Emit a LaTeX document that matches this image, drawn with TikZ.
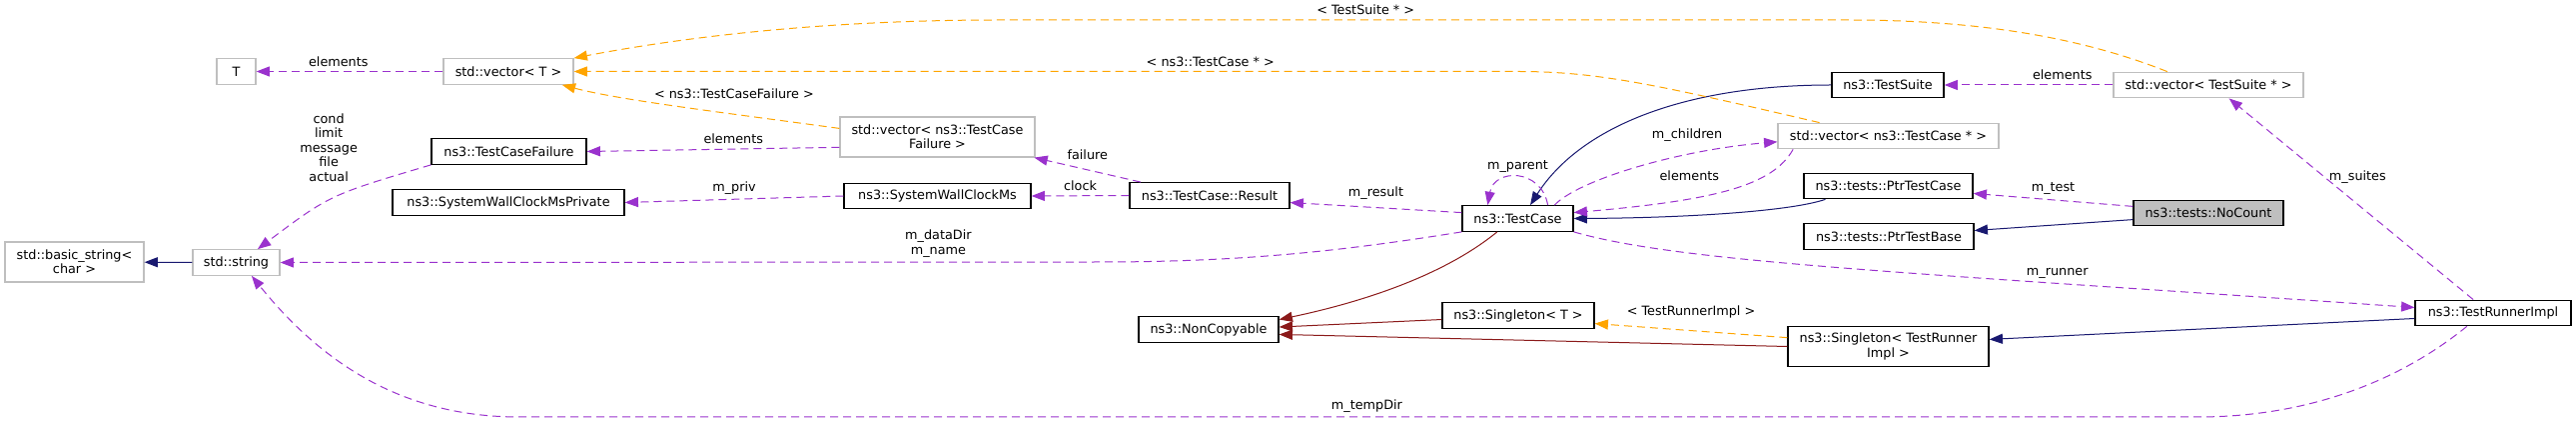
\documentclass[tikz,border=0pt]{standalone}
\usepackage{fontspec}
\setmainfont{DejaVu Sans}
\usetikzlibrary{arrows.meta}

\definecolor{edgepurple}{HTML}{9A32CD}
\definecolor{edgeorange}{HTML}{FFA500}
\definecolor{edgenavy}{HTML}{191970}
\definecolor{edgered}{HTML}{8B1A1A}
\definecolor{boxgray}{HTML}{BFBFBF}

\begin{document}
\begin{tikzpicture}[x=0.75pt,y=-0.75pt,
    font=\fontsize{9.6}{10.8}\selectfont,
    cls/.style={draw=black,line width=0.9pt,fill=white,inner sep=2pt,
      minimum height=19.2pt,align=center},
    ext/.style={cls,draw=boxgray},
    boxw/.style={minimum width=#1*0.75pt},
    inherit/.style={color=edgenavy,line width=0.75pt,
      -{Triangle[length=10pt,width=7.5pt]}},
    privinh/.style={inherit,color=edgered},
    uses/.style={inherit,color=edgepurple,dash pattern=on 6pt off 3.75pt},
    tmpl/.style={uses,color=edgeorange},
    every node/.append style={align=center,text=black}]
   \useasboundingbox (0,0) rectangle (2579,423);

   \node[ext,boxw=39] (T) at (236.5,71.5) {T};
   \node[ext,boxw=130] (vecT) at (509,71.5) {std::vector< T >};
   \node[cls,boxw=155] (tcf) at (509.5,151.5) {ns3::TestCaseFailure};
   \node[cls,boxw=232] (swcp) at (509,202.5) {ns3::SystemWallClockMsPrivate};
   \node[ext,boxw=139,minimum height=30pt] (bstr) at (74.5,262) {std::basic\_string<\\char >};
   \node[ext,boxw=87] (str) at (236.5,262.5) {std::string};
   \node[ext,boxw=195,minimum height=30pt] (vecTCF) at (938.5,137) {std::vector< ns3::TestCase\\Failure >};
   \node[cls,boxw=187] (swc) at (938.5,196) {ns3::SystemWallClockMs};
   \node[cls,boxw=160] (result) at (1211,195.5) {ns3::TestCase::Result};
   \node[cls,boxw=140] (noncopy) at (1210,329.5) {ns3::NonCopyable};
   \node[cls,boxw=111] (tc) at (1519.5,218.5) {ns3::TestCase};
   \node[cls,boxw=152] (sgT) at (1520,315.5) {ns3::Singleton< T >};
   \node[cls,boxw=112] (suite) at (1890,85) {ns3::TestSuite};
   \node[ext,boxw=221] (vecTC) at (1890.5,136) {std::vector< ns3::TestCase * >};
   \node[cls,boxw=169] (ptc) at (1890.5,186) {ns3::tests::PtrTestCase};
   \node[cls,boxw=170] (ptb) at (1891,236.5) {ns3::tests::PtrTestBase};
   \node[cls,boxw=201,minimum height=29.5pt] (sgTRI) at (1890.5,346.5) {ns3::Singleton< TestRunner\\Impl >};
   \node[ext,boxw=190] (vecTS) at (2211,85) {std::vector< TestSuite * >};
   \node[cls,boxw=150,fill=boxgray] (nocount) at (2211,213) {ns3::tests::NoCount};
   \node[cls,boxw=156] (runner) at (2496,313) {ns3::TestRunnerImpl};

   % public inheritance
   \path[inherit]
    (str) edge (bstr)
    (nocount.185) edge (ptb.4)
    (runner.184) edge (sgTRI.4);
   \draw[inherit] (suite.west) .. controls (1680,85) and (1580,130) .. (tc.47);
   \draw[inherit] (ptc.192) .. controls (1790,212) and (1680,218) .. (tc.east);

   % private inheritance
   \draw[privinh] (tc.213) .. controls (1440,280) and (1350,305) .. (noncopy.8);
   \path[privinh]
    (sgT.183) edge (noncopy.2)
    (sgTRI.west) edge (noncopy.-4);

   % usage
   \path[uses]
    (vecT) edge node[pos=0.56,above] {elements} (T)
    (vecTCF.186) edge node[pos=0.42,above] {elements} (tcf.east)
    (swc.west) edge node[above] {m\_priv} (swcp.east)
    (result.169) edge node[above=4pt] {failure} (vecTCF.-12)
    (result.west) edge node[above] {clock} (swc.east)
    (tc.174) edge node[above=2pt] {m\_result} (result.-5)
    (tc.24) edge[out=100,in=80,looseness=1.6] node[above] {m\_parent} (tc.156)
    (vecTS.west) edge node[pos=0.3,above] {elements} (suite.east)
    (nocount.175) edge node[above] {m\_test} (ptc.-5)
    (runner.146) edge node[pos=0.61,right] {m\_suites} (vecTS.-33);
   \draw[uses] (tcf.south west) .. controls (330,195) .. (str.32)
     node[pos=0.3,anchor=south east] {cond\\limit\\message\\file\\actual};
   \draw[uses] (tc.south west) .. controls (1350,250) and (1250,262) .. (1100,262)
     -- (str.east) node[pos=0.196,above] {m\_dataDir\\m\_name};
   \draw[uses] (tc.20) .. controls (1580,180) and (1680,150) .. (vecTC.183)
     node[pos=0.69,above=6.5pt] {m\_children};
   \draw[uses] (vecTC.188) .. controls (1775,185) and (1720,200) .. (tc.6)
     node[pos=0.67,above=10pt] {elements};
   \draw[uses] (tc.south east) .. controls (1680,262) and (1900,272) .. (runner.176)
     node[pos=0.73,above] {m\_runner};
   \draw[uses] (runner.207) .. controls (2410,375) and (2320,417) .. (2200,417)
     -- (520,417) node[pos=0.495,above] {m\_tempDir}
     .. controls (400,417) and (320,360) .. (str.-41);

   % template instances
   \draw[tmpl] (vecTCF.175) .. controls (720,112) and (620,100) .. (vecT.-14)
     node[pos=0.31,above=8pt] {< ns3::TestCaseFailure >};
   \draw[tmpl] (vecTC.169) .. controls (1660,85) and (1600,71.5) .. (1520,71.5)
     -- (vecT.east) node[pos=0.326,above] {< ns3::TestCase * >};
   \draw[tmpl] (vecTS.162) .. controls (2090,40) and (1990,20) .. (1850,20)
     -- (1000,20) node[pos=0.568,above] {< TestSuite * >}
     .. controls (820,20) and (680,38) .. (vecT.north east);
   \path[tmpl]
    (sgTRI.175) edge node[above=5.5pt] {< TestRunnerImpl >} (sgT.-6);
\end{tikzpicture}
\end{document}
